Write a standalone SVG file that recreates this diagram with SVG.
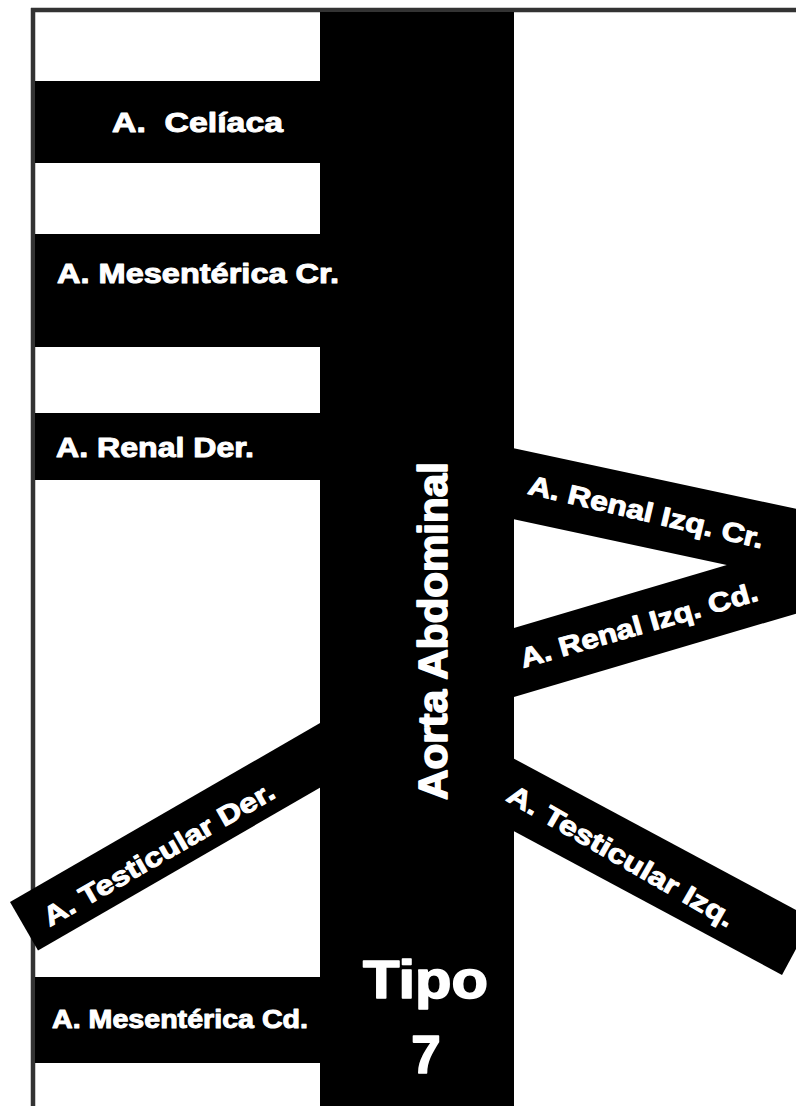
<svg xmlns="http://www.w3.org/2000/svg" width="796" height="1106" viewBox="0 0 796 1106">
<style>
.band{fill:#000}
.lbl{font-family:"Liberation Sans",Arial,sans-serif;font-weight:bold;fill:#fff;stroke:#fff;stroke-width:1;stroke-linejoin:round}
.s28{font-size:28px}
.s27{font-size:27px}
.s26{font-size:26px}
.big{stroke-width:1.6}
.frame{stroke:#333;stroke-width:4.5;fill:none}
</style>
<rect width="796" height="1106" fill="#fff"/>
<g id="frame">
<line class="frame" x1="31" y1="10" x2="796" y2="10"/>
<line class="frame" x1="33" y1="8" x2="33" y2="1106"/>
</g>
<g id="aorta">
<rect class="band" x="320" y="12" width="194" height="1094"/>
<text class="lbl big" transform="translate(447,800) rotate(-90)" x="0" y="0" font-size="40.5" textLength="338" lengthAdjust="spacingAndGlyphs">Aorta Abdominal</text>
</g>
<g id="celiaca">
<rect class="band" x="35" y="81" width="325" height="82"/>
<text class="lbl s28" x="112" y="132" textLength="171" lengthAdjust="spacingAndGlyphs" xml:space="preserve">A.  Celíaca</text>
</g>
<g id="mesenterica-cr">
<rect class="band" x="35" y="234" width="355" height="113"/>
<text class="lbl s28" x="57" y="283" textLength="282" lengthAdjust="spacingAndGlyphs">A. Mesentérica Cr.</text>
</g>
<g id="renal-der">
<rect class="band" x="35" y="413" width="290" height="67"/>
<text class="lbl s28" x="56" y="457" textLength="198" lengthAdjust="spacingAndGlyphs">A. Renal Der.</text>
</g>
<g id="renal-izq-cr">
<polygon class="band" points="500,445.2 800,509.7 800,580.7 500,516.2"/>
<text class="lbl s27" transform="translate(644,521) rotate(13.2)" x="0" y="0" text-anchor="middle" textLength="241" lengthAdjust="spacingAndGlyphs">A. Renal Izq. Cr.</text>
</g>
<g id="renal-izq-cd">
<polygon class="band" points="500,632 800,543.5 800,612.5 500,701"/>
<text class="lbl s27" transform="translate(641.5,634) rotate(-16)" x="0" y="0" text-anchor="middle" textLength="246" lengthAdjust="spacingAndGlyphs">A. Renal Izq. Cd.</text>
</g>
<g id="testicular-der">
<rect class="band" transform="translate(10,902) rotate(-30)" x="0" y="0" width="370" height="56"/>
<text class="lbl s27" transform="translate(163.5,862) rotate(-29.8)" x="0" y="0" text-anchor="middle" textLength="262" lengthAdjust="spacingAndGlyphs">A. Testicular Der.</text>
</g>
<g id="testicular-izq">
<rect class="band" transform="translate(782,975) rotate(28.2)" x="-350" y="-64" width="350" height="64"/>
<text class="lbl s27" transform="translate(616.5,864) rotate(29.9)" x="0" y="0" text-anchor="middle" textLength="257" lengthAdjust="spacingAndGlyphs">A. Testicular Izq.</text>
</g>
<g id="mesenterica-cd">
<rect class="band" x="35" y="977" width="290" height="86"/>
<text class="lbl s26" x="52" y="1028" textLength="256" lengthAdjust="spacingAndGlyphs">A. Mesentérica Cd.</text>
</g>
<g id="tipo">
<text class="lbl big" x="425.5" y="998" font-size="53" text-anchor="middle" textLength="125" lengthAdjust="spacingAndGlyphs">Tipo</text>
<text class="lbl big" x="426" y="1073" font-size="53" text-anchor="middle">7</text>
</g>
</svg>
